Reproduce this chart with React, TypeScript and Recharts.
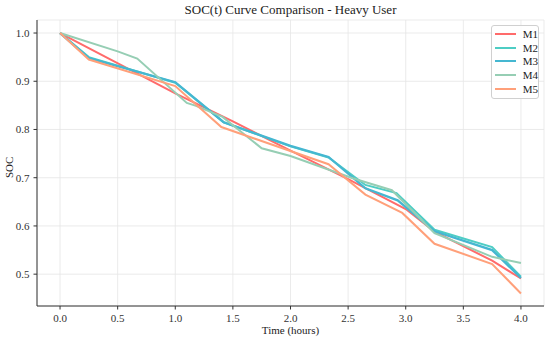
import { LineChart, Line, XAxis, YAxis, CartesianGrid } from "recharts";

const SERIES = ["M1", "M2", "M3", "M4", "M5"];
const COLORS = ["#FF6B6B", "#4ECDC4", "#45B7D1", "#96CEB4", "#FFA07A"];

const M1_T = [0, 1, 1.5, 2, 2.5, 3, 3.25, 3.75, 4];
const M1_SOC = [1.0, 0.875, 0.817, 0.756, 0.697, 0.635, 0.588, 0.528, 0.491];

const M2_T = [0, 0.25, 1.0, 1.42, 2.0, 2.33, 2.65, 2.92, 3.25, 3.75, 4];
const M2_SOC = [1.0, 0.95, 0.897, 0.815, 0.765, 0.742, 0.685, 0.668, 0.592, 0.556, 0.495];

const M3_T = [0, 0.25, 1.0, 1.42, 2.0, 2.33, 2.65, 2.93, 3.25, 3.75, 4];
const M3_SOC = [1.0, 0.948, 0.898, 0.815, 0.766, 0.743, 0.678, 0.653, 0.589, 0.55, 0.492];

const M4_T = [0, 0.5, 0.67, 1.1, 1.18, 1.41, 1.75, 2.0, 2.54, 2.88, 3.25, 3.75, 4];
const M4_SOC = [1.0, 0.962, 0.947, 0.855, 0.849, 0.826, 0.761, 0.745, 0.699, 0.674, 0.585, 0.536, 0.523];

const M5_T = [0, 0.25, 1.0, 1.4, 2.33, 2.65, 2.97, 3.25, 3.75, 4];
const M5_SOC = [1.0, 0.945, 0.89, 0.805, 0.728, 0.665, 0.627, 0.563, 0.521, 0.46];

const X_TICKS = [0, 0.5, 1, 1.5, 2, 2.5, 3, 3.5, 4];
const Y_TICKS = [0.5, 0.6, 0.7, 0.8, 0.9, 1.0];

const toPoints = (t: number[], v: number[]) => t.map((x, i) => ({ t: x, soc: v[i] }));

const DATA = [
  toPoints(M1_T, M1_SOC),
  toPoints(M2_T, M2_SOC),
  toPoints(M3_T, M3_SOC),
  toPoints(M4_T, M4_SOC),
  toPoints(M5_T, M5_SOC),
];

const FONT = "'Liberation Serif', 'DejaVu Serif', serif";
const X_DOMAIN: [number, number] = [-0.2, 4.2];
const Y_DOMAIN: [number, number] = [0.434, 1.027];

const XTick = (props: any) => {
  const { x, y, payload } = props;
  return (
    <text x={x} y={y + 10} textAnchor="middle" fontFamily={FONT} fontSize={11} fill="#333">
      {Number(payload.value).toFixed(1)}
    </text>
  );
};

const YTick = (props: any) => {
  const { x, y, payload } = props;
  return (
    <text x={x - 2} y={y + 4} textAnchor="end" fontFamily={FONT} fontSize={11} fill="#333">
      {Number(payload.value).toFixed(1)}
    </text>
  );
};

function LegendBox() {
  return (
    <div
      style={{
        position: "absolute",
        left: 491,
        top: 25,
        width: 48,
        boxSizing: "border-box",
        border: "1px solid #d0d0d0",
        borderRadius: 3,
        background: "rgba(255,255,255,0.85)",
        padding: "1px 0 2px 3px",
        fontSize: 11,
        color: "#222",
      }}
    >
      {SERIES.map((name, i) => (
        <div key={name} style={{ display: "flex", alignItems: "center", height: 13.8 }}>
          <div style={{ width: 21, height: 2, background: COLORS[i], marginRight: 7 }} />
          <span>{name}</span>
        </div>
      ))}
    </div>
  );
}

export default function App() {
  return (
    <div
      style={{
        position: "absolute",
        left: 0,
        top: 0,
        width: 550,
        height: 341,
        background: "#fff",
        fontFamily: FONT,
      }}
    >
      <div
        style={{
          position: "absolute",
          left: 37,
          width: 507,
          top: 2,
          textAlign: "center",
          fontSize: 13,
          color: "#222",
        }}
      >
        SOC(t) Curve Comparison - Heavy User
      </div>
      <LineChart
        width={550}
        height={341}
        margin={{ top: 20, right: 6, bottom: 0, left: 0 }}
        style={{ fontFamily: FONT }}
      >
        <CartesianGrid stroke="#e6e6e6" strokeWidth={0.8} />
        <XAxis
          dataKey="t"
          type="number"
          domain={X_DOMAIN}
          ticks={X_TICKS}
          allowDataOverflow
          tick={<XTick />}
          tickSize={3.5}
          axisLine={{ stroke: "#333", strokeWidth: 1 }}
          tickLine={{ stroke: "#333" }}
          height={35}
          label={{ value: "Time (hours)", position: "insideBottom", offset: 7, fontSize: 11, fill: "#222", fontFamily: FONT }}
        />
        <XAxis
          xAxisId="top"
          orientation="top"
          type="number"
          domain={X_DOMAIN}
          allowDataOverflow
          tick={false}
          tickLine={false}
          height={0}
          axisLine={{ stroke: "#333", strokeWidth: 1 }}
        />
        <YAxis
          type="number"
          domain={Y_DOMAIN}
          ticks={Y_TICKS}
          allowDataOverflow
          tick={<YTick />}
          tickSize={3.5}
          axisLine={{ stroke: "#333", strokeWidth: 1 }}
          tickLine={{ stroke: "#333" }}
          width={37}
          label={{ value: "SOC", angle: -90, position: "insideLeft", offset: 9, dy: 15, fontSize: 11, fill: "#222", fontFamily: FONT }}
        />
        <YAxis
          yAxisId="right"
          orientation="right"
          type="number"
          domain={Y_DOMAIN}
          allowDataOverflow
          tick={false}
          tickLine={false}
          width={0}
          axisLine={{ stroke: "#333", strokeWidth: 1 }}
        />
        {SERIES.map((name, i) => (
          <Line
            key={name}
            data={DATA[i]}
            dataKey="soc"
            name={name}
            type="linear"
            stroke={COLORS[i]}
            strokeWidth={i === 2 ? 2.3 : 2}
            dot={false}
            isAnimationActive={false}
          />
        ))}
      </LineChart>
      <LegendBox />
    </div>
  );
}
